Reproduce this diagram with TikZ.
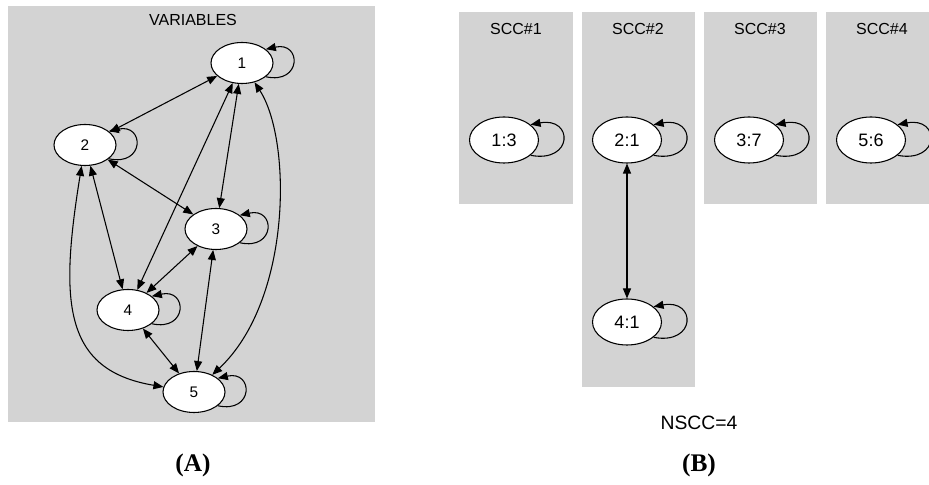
\documentclass[tikz,border=0pt]{standalone}
\usepackage{fontspec}
\setmainfont{Liberation Sans}
\newfontfamily\capfont{Liberation Serif}
\usetikzlibrary{arrows.meta,shapes.geometric}
\definecolor{panelgray}{HTML}{D3D3D3}

\begin{document}
\begin{tikzpicture}[
  x=0.75pt, y=0.75pt,
  >={Triangle[length=7.5pt,width=6pt]},
  panel/.style={fill=panelgray},
  var/.style={ellipse, draw, fill=white, line width=0.8pt, minimum width=46.5pt, minimum height=30.75pt, inner sep=0pt, font=\fontsize{11.5}{13}\selectfont},
  comp/.style={var, minimum width=51.75pt, minimum height=34.5pt, font=\fontsize{13.5}{15}\selectfont},
  title/.style={font=\fontsize{12}{14}\selectfont},
  caption/.style={font=\capfont\bfseries\fontsize{19}{21}\selectfont},
  edge/.style={<->, line width=0.8pt},
  selfloop/.style={->, line width=0.8pt}
]
\useasboundingbox (0,0) rectangle (929,485);

% (A) variable graph
\fill[panel] (8,63) rectangle (375,479);
\node[title] (tvar) at (193,465) {VARIABLES};
\node[var] (v1) at (242,422) {1};
\node[var] (v2) at (85,340) {2};
\node[var] (v3) at (216,256) {3};
\node[var] (v4) at (128,175) {4};
\node[var] (v5) at (194,93) {5};
\foreach \a/\b in {v1/v2,v1/v3,v2/v3,v2/v4,v1/v4,v3/v4,v3/v5,v4/v5}
  \draw[edge] (\a) -- (\b);
\draw[edge] (v2) .. controls (60,185) and (62,115) .. (v5);
\draw[edge] (v1) .. controls (292,345) and (292,185) .. (v5);
\foreach \n in {v1,v2,v3,v4,v5}
  \draw[selfloop] (\n.-30) .. controls +(36,-8) and +(36,8) .. (\n.30);
\node[caption] (capa) at (193,20) {(A)};

% (B) strongly connected components
\fill[panel] (459,281) rectangle (573,473);
\fill[panel] (582,98) rectangle (695,473);
\fill[panel] (704,281) rectangle (817,473);
\fill[panel] (826,281) rectangle (929,473);
\node[title] (ts1) at (516,456) {SCC\#1};
\node[title] (ts2) at (638,456) {SCC\#2};
\node[title] (ts3) at (760,456) {SCC\#3};
\node[title] (ts4) at (882,456) {SCC\#4};
\node[comp] (c1) at (504,345) {1:3};
\node[comp] (c2) at (627,345) {2:1};
\node[comp] (c3) at (749,345) {3:7};
\node[comp] (c5) at (871,345) {5:6};
\node[comp] (c4) at (627,163) {4:1};
\draw[edge] (c2) -- (c4);
\foreach \n in {c1,c2,c3,c4,c5}
  \draw[selfloop] (\n.-30) .. controls +(43,-8) and +(43,8) .. (\n.30);
\node[font=\fontsize{14.5}{16}\selectfont] (nscc) at (699,62) {NSCC=4};
\node[caption] (capb) at (699,20) {(B)};
\end{tikzpicture}
\end{document}
